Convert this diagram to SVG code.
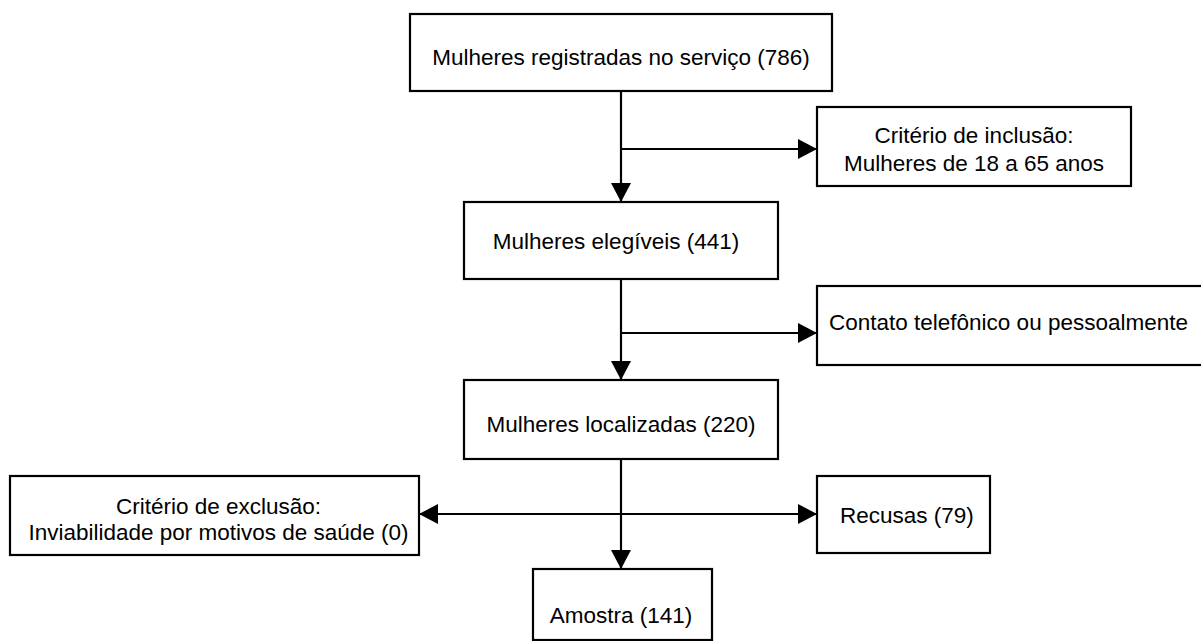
<svg xmlns="http://www.w3.org/2000/svg" width="1201" height="641" viewBox="0 0 1201 641">
<style>
.box{fill:#fff;stroke:#000;stroke-width:2.2}
.t{font-family:"Liberation Sans",Arial,sans-serif;font-size:22.5px;fill:#000}
.c{text-anchor:middle}
.ln{fill:none;stroke:#000;stroke-width:2.2}
</style>
<defs>
<marker id="ah" markerUnits="userSpaceOnUse" markerWidth="20" markerHeight="22" refX="19" refY="10" orient="auto">
<path d="M0,0 L19,10 L0,20 Z" fill="#000"/>
</marker>
</defs>
<rect width="1201" height="641" fill="#fff"/>
<g id="connectors">
<line class="ln" x1="621" y1="91" x2="621" y2="202" marker-end="url(#ah)"/>
<line class="ln" x1="621" y1="149" x2="817" y2="149" marker-end="url(#ah)"/>
<line class="ln" x1="621" y1="279" x2="621" y2="380" marker-end="url(#ah)"/>
<line class="ln" x1="621" y1="333" x2="817" y2="333" marker-end="url(#ah)"/>
<line class="ln" x1="621" y1="459" x2="621" y2="569" marker-end="url(#ah)"/>
<line class="ln" x1="621" y1="514" x2="817" y2="514" marker-end="url(#ah)"/>
<line class="ln" x1="621" y1="514" x2="419" y2="514" marker-end="url(#ah)"/>
</g>
<g id="registradas">
<rect class="box" x="410" y="14" width="422" height="77"/>
<text class="t c" x="621" y="65">Mulheres registradas no serviço (786)</text>
</g>
<g id="inclusao">
<rect class="box" x="817" y="107" width="314" height="79"/>
<text class="t c" x="974" y="143">Critério de inclusão:</text>
<text class="t c" x="974" y="171">Mulheres de 18 a 65 anos</text>
</g>
<g id="elegiveis">
<rect class="box" x="464" y="202" width="314" height="77"/>
<text class="t c" x="616" y="249">Mulheres elegíveis (441)</text>
</g>
<g id="contato">
<rect class="box" x="817" y="286" width="390" height="79"/>
<text class="t" x="829" y="330">Contato telefônico ou pessoalmente</text>
</g>
<g id="localizadas">
<rect class="box" x="464" y="380" width="314" height="79"/>
<text class="t c" x="621" y="432">Mulheres localizadas (220)</text>
</g>
<g id="exclusao">
<rect class="box" x="10" y="476" width="409" height="79"/>
<text class="t c" x="218.5" y="514">Critério de exclusão:</text>
<text class="t c" x="218.5" y="540">Inviabilidade por motivos de saúde (0)</text>
</g>
<g id="recusas">
<rect class="box" x="817" y="476" width="173" height="77"/>
<text class="t" x="840" y="523">Recusas (79)</text>
</g>
<g id="amostra">
<rect class="box" x="533" y="569" width="179" height="71"/>
<text class="t c" x="621" y="623">Amostra (141)</text>
</g>
</svg>
